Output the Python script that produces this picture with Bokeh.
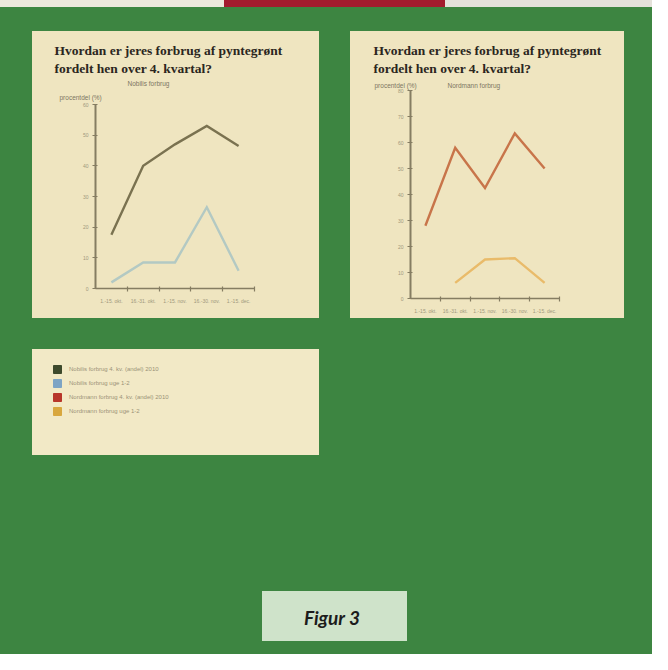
import numpy as np
from bokeh.plotting import figure
from bokeh.models import (Title, FixedTicker, Range1d, Spacer, Legend, LegendItem, Label)
from bokeh.layouts import column, row
from bokeh.embed import file_html
from bokeh.resources import INLINE

# ---------------- data ----------------
periods = ["1.-15. okt.", "16.-31. okt.", "1.-15. nov.", "16.-30. nov.", "1.-15. dec."]
nobilis_total = [17.5, 40.0, 47.0, 53.0, 46.5]
nobilis_part = [2.0, 8.5, 8.5, 26.5, 5.8]
nordmann_total = [28.0, 58.0, 42.5, 63.5, 50.0]
nordmann_part = [np.nan, 6.0, 15.0, 15.5, 6.0]
left_y_ticks = [0, 10, 20, 30, 40, 50, 60]
right_y_ticks = [0, 10, 20, 30, 40, 50, 60, 70, 80]
title_lines = ["Hvordan er jeres forbrug af pyntegrønt", "fordelt hen over 4. kvartal?"]
y_label = "procentdel (%)"
left_subtitle = "Nobilis forbrug"
right_subtitle = "Nordmann forbrug"
legend_labels = ["Nobilis forbrug 4. kv. (andel) 2010",
                 "Nobilis forbrug uge 1-2",
                 "Nordmann forbrug 4. kv. (andel) 2010",
                 "Nordmann forbrug uge 1-2"]
legend_colors = ["#3e4a2c", "#7ea4c4", "#b8362a", "#d8a73e"]
caption = "Figur 3"

# ---------------- styles ----------------
GREEN = "#3d8541"
PANEL = "#efe5c0"
LEGEND_BG = "#f2e9c6"
CAPTION_BG = "#cfe3ca"
AXIS = "#857d62"
TINY = "#a0987c"
TITLE_C = "#2b2620"
TITLE_FONT = "Liberation Serif"
SMALL_FONT = "Liberation Sans"


def chart(width, height, borders, ymax, yticks, series, title_specs):
    p = figure(width=width, height=height, output_backend="svg", toolbar_location=None,
               title=None,
               x_range=Range1d(-0.5, len(periods) - 0.5), y_range=Range1d(0, ymax),
               min_border_left=borders[0], min_border_right=borders[1],
               min_border_top=borders[2], min_border_bottom=borders[3],
               background_fill_color=PANEL, border_fill_color=PANEL,
               outline_line_color=None)
    p.grid.visible = False
    xs = list(range(len(periods)))
    for ys, color in series:
        p.line(xs, ys, line_color=color, line_width=2.4, line_join="miter")

    xa = p.xaxis[0]
    xa.ticker = FixedTicker(ticks=xs, minor_ticks=[x + 0.5 for x in xs])
    xa.major_label_overrides = {x: lab for x, lab in zip(xs, periods)}
    xa.major_tick_line_color = None
    xa.minor_tick_in = 2
    xa.minor_tick_out = 3
    xa.minor_tick_line_color = AXIS
    xa.minor_tick_line_width = 1.2
    xa.axis_line_color = AXIS
    xa.axis_line_width = 1.6
    xa.major_label_text_font = SMALL_FONT
    xa.major_label_text_font_size = "5px"
    xa.major_label_text_color = TINY
    xa.major_label_standoff = 3

    ya = p.yaxis[0]
    ya.ticker = FixedTicker(ticks=yticks)
    ya.major_tick_in = 2
    ya.major_tick_out = 3
    ya.major_tick_line_color = AXIS
    ya.major_tick_line_width = 1.2
    ya.minor_tick_line_color = None
    ya.axis_line_color = AXIS
    ya.axis_line_width = 2
    ya.major_label_text_font = SMALL_FONT
    ya.major_label_text_font_size = "5px"
    ya.major_label_text_color = TINY
    ya.major_label_standoff = 4

    for text, offset, size, bold, standoff in title_specs:
        p.add_layout(Title(text=text, align="left", offset=offset,
                           text_font=TITLE_FONT if bold else SMALL_FONT,
                           text_font_size=size,
                           text_font_style="bold" if bold else "normal",
                           text_color=TITLE_C if bold else "#7d7660",
                           text_line_height=1.2,
                           standoff=standoff), "above")
    return p


main_title = "\n".join(title_lines)

left = chart(287, 287, (63, 65, 73, 30), 60, left_y_ticks,
             [(nobilis_total, "#7a7250"), (nobilis_part, "#b3c9c3")],
             [(y_label, -36, "6.5px", False, 8),
              (left_subtitle, 32, "6.5px", False, 2),
              (main_title, -41, "13.5px", True, 2)])

nb = "\u00a0"
right = chart(274, 287, (60, 65, 59, 20), 80, right_y_ticks,
              [(nordmann_total, "#c8754a"), (nordmann_part, "#e9bb6a")],
              [(y_label + nb * 17 + right_subtitle, -36, "6.5px", False, 3),
               (main_title, -37, "13.5px", True, 6)])

# legend panel
lp = figure(width=287, height=106, output_backend="svg", toolbar_location=None, title=None,
            x_range=Range1d(0, 1), y_range=Range1d(0, 1),
            x_axis_location=None, y_axis_location=None, min_border=0,
            background_fill_color=LEGEND_BG, border_fill_color=LEGEND_BG,
            outline_line_color=None)
lp.grid.visible = False
items = []
for lab, col in zip(legend_labels, legend_colors):
    # off-screen placeholder glyph: only its legend swatch is shown
    r = lp.quad(left=[-3], right=[-2], top=[-2], bottom=[-3], fill_color=col, line_color=col)
    items.append(LegendItem(label=lab, renderers=[r]))
leg = Legend(items=items, location=(20, 39), padding=0, margin=0,
             glyph_width=10, glyph_height=10, label_height=10, spacing=4,
             label_standoff=7, label_text_font=SMALL_FONT, label_text_font_size="6px",
             label_text_color="#9a9378", border_line_color=None, background_fill_alpha=0)
lp.add_layout(leg)

# caption box
cp = figure(width=145, height=50, output_backend="svg", toolbar_location=None, title=None,
            x_range=Range1d(0, 1), y_range=Range1d(0, 1),
            x_axis_location=None, y_axis_location=None, min_border=0,
            background_fill_color=CAPTION_BG, border_fill_color=CAPTION_BG,
            outline_line_color=None)
cp.grid.visible = False
cp.add_layout(Label(x=0.48, y=0.48, text=caption, text_align="center", text_baseline="middle",
                    text_font="Lato", text_font_style="bold italic", text_font_size="19px",
                    text_color="#1c1c1c"))

top_strip = row(Spacer(width=224, height=7, styles={"background-color": "#ece8dc"}),
                Spacer(width=221, height=7, styles={"background-color": "#a31b2e"}),
                Spacer(width=207, height=7, styles={"background-color": "#e4e1da"}))

root = column(
    top_strip,
    Spacer(width=652, height=24),
    row(Spacer(width=32, height=287),
        column(left, styles={"background-color": PANEL}),
        Spacer(width=31, height=287),
        column(right, styles={"background-color": PANEL})),
    Spacer(width=652, height=31),
    row(Spacer(width=32, height=106), column(lp, styles={"background-color": LEGEND_BG})),
    Spacer(width=652, height=136),
    row(Spacer(width=262, height=50), column(cp, styles={"background-color": CAPTION_BG})),
    Spacer(width=652, height=12),
    width=652, height=654, styles={"background-color": GREEN},
)

open("out.html", "w").write(file_html(root, INLINE))
